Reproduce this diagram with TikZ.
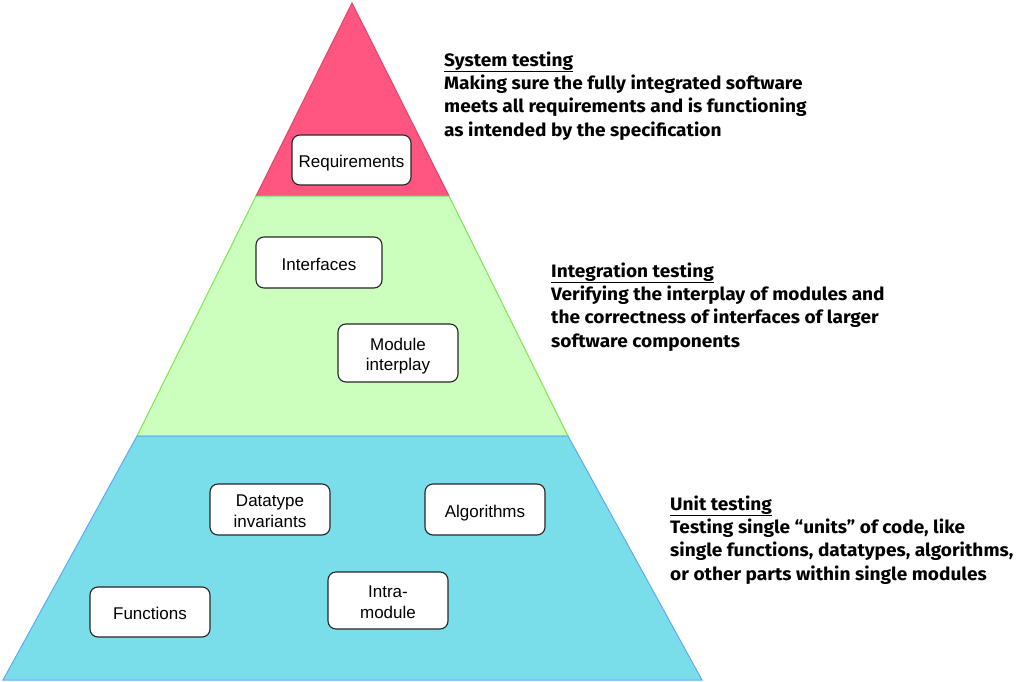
\documentclass[tikz,border=0pt]{standalone}
\usepackage{fontspec}
\setmainfont{Liberation Sans}
\newfontfamily\descfont{Fira Sans}[FakeStretch=1.06]

\definecolor{sysfill}{RGB}{255,85,128}
\definecolor{sysline}{RGB}{222,70,110}
\definecolor{intfill}{RGB}{204,255,190}
\definecolor{intline}{RGB}{125,230,80}
\definecolor{unitfill}{RGB}{122,221,234}
\definecolor{unitline}{RGB}{95,170,240}

\tikzset{
	box/.style={draw=black!85, line width=1.1pt, fill=white, rounded corners=8pt,
		minimum width=120pt, minimum height=51pt, align=center, inner sep=2pt,
		text height=15.5pt, text depth=0pt,
		font=\fontsize{17}{20.5}\selectfont},
	twoline/.style={text height=35.5pt, text depth=0pt},
	desc/.style={anchor=base west, align=left, inner sep=0pt,
		font=\descfont\bfseries\fontsize{18}{23.3}\selectfont},
}

\begin{document}
\begin{tikzpicture}[x=1pt,y=-1pt]
	\useasboundingbox (0,0) rectangle (1017,682);

	% layers of the pyramid
	\draw[fill=sysfill, draw=sysline, line width=1pt] (352,3) -- (449,196) -- (256,196) -- cycle;
	\draw[fill=intfill, draw=intline, line width=1pt] (256,196) -- (449,196) -- (568,436) -- (137,436) -- cycle;
	\draw[fill=unitfill, draw=unitline, line width=1pt] (137,436) -- (568,436) -- (702,680) -- (3,680) -- cycle;

	% topics
	\node[box, minimum width=119pt, minimum height=50pt] (req) at (351.5,160) {Requirements};
	\node[box, minimum width=126pt] (iface) at (319,262.5) {Interfaces};
	\node[box, twoline, minimum height=58pt] (modint) at (398,353) {Module\\interplay};
	\node[box, twoline] (dtinv) at (270,509.5) {Datatype\\invariants};
	\node[box] (algo) at (485,509.5) {Algorithms};
	\node[box, minimum height=50pt] (func) at (150,612) {Functions};
	\node[box, twoline, minimum height=57pt] (intra) at (388,600.5) {Intra-\\module};

	% descriptions (placed at the baseline of their last line)
	\node[desc] (sysdesc) at (444,136) {\underline{System testing}\\
		Making sure the fully integrated software\\
		meets all requirements and is functioning\\
		as intended by the specification};
	\node[desc] (intdesc) at (551,347) {\underline{Integration testing}\\
		Verifying the interplay of modules and\\
		the correctness of interfaces of larger\\
		software components};
	\node[desc] (unitdesc) at (670,580) {\underline{Unit testing}\\
		Testing single “units” of code, like\\
		single functions, datatypes, algorithms,\\
		or other parts within single modules};
\end{tikzpicture}
\end{document}
